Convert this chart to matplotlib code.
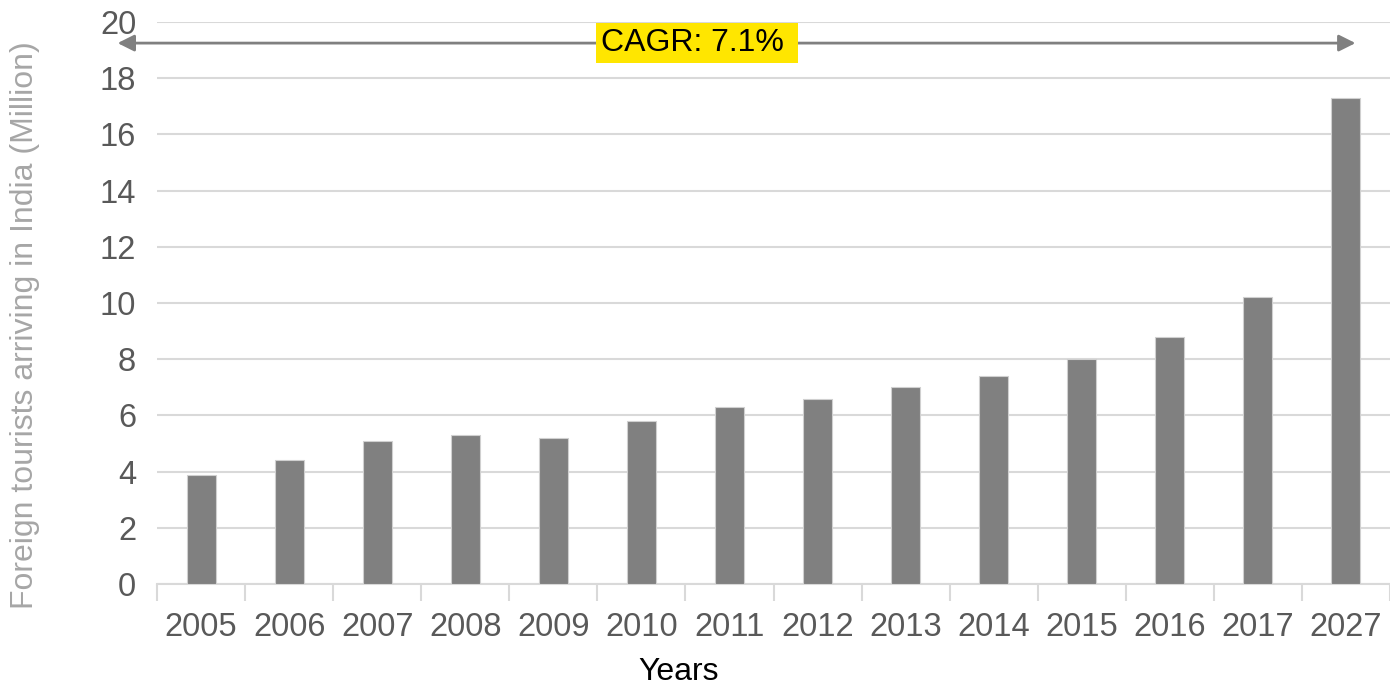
import matplotlib.pyplot as plt
import numpy as np

plt.rcParams['font.family'] = ['Liberation Sans', 'DejaVu Sans']

years = ['2005', '2006', '2007', '2008', '2009', '2010', '2011',
         '2012', '2013', '2014', '2015', '2016', '2017', '2027']
tourists = [3.9, 4.4, 5.1, 5.3, 5.2, 5.8, 6.3, 6.6, 7.0, 7.4, 8.0, 8.8, 10.2, 17.3]
cagr_text = 'CAGR: 7.1% '

fig = plt.figure(figsize=(13.9, 6.88), dpi=100)
ax = fig.add_axes([0.113, 0.151, 0.887, 0.817])

x = np.arange(len(years))
ax.bar(x, tourists, width=0.33, color='#808080', edgecolor='#d0d0d0', linewidth=0.8, zorder=3)

ax.set_xlim(-0.5, len(years) - 0.5)
ax.set_ylim(0, 20)
ax.set_yticks(range(0, 21, 2))
ax.yaxis.grid(True, color='#d9d9d9', linewidth=1.5, zorder=0)
ax.set_axisbelow(True)

for s in ['top', 'right', 'left']:
    ax.spines[s].set_visible(False)
ax.spines['bottom'].set_color('#d9d9d9')
ax.spines['bottom'].set_linewidth(1.5)

ax.set_xticks(x)
ax.set_xticklabels(years)
ax.set_xticks(np.arange(-0.5, len(years), 1), minor=True)
ax.tick_params(axis='x', which='major', length=0, labelsize=23.5, labelcolor='#595959', pad=20)
ax.tick_params(axis='x', which='minor', length=12, width=1.5, color='#d9d9d9')
ax.tick_params(axis='y', length=0, labelsize=23.5, labelcolor='#595959', pad=15)

ax.set_ylabel('Foreign tourists arriving in India (Million)', fontsize=23, color='#a6a6a6', va='center')
ax.yaxis.set_label_coords(-0.107, 0.461)
fig.text(0.488, 1 - 672 / 688, 'Years', fontsize=23, color='black', ha='center', va='center')

# CAGR arrow across the top
ax.annotate('', xy=(0.972, 19.25), xytext=(-0.032, 19.25),
            xycoords=('axes fraction', 'data'), textcoords=('axes fraction', 'data'),
            arrowprops=dict(arrowstyle='<|-|>', color='#808080', lw=2, mutation_scale=25,
                            shrinkA=0, shrinkB=0),
            annotation_clip=False)
ax.text(0.438, 19.25, cagr_text, transform=ax.get_yaxis_transform(), ha='center', va='center',
        fontsize=23, color='black',
        bbox=dict(boxstyle='square,pad=0.15', facecolor='#ffe600', edgecolor='none'))

fig.savefig('out.png', dpi=100)
